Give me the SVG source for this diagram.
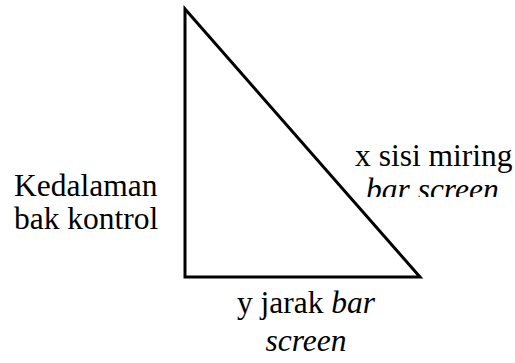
<svg xmlns="http://www.w3.org/2000/svg" width="515" height="363" viewBox="0 0 515 363">
<style>
.i{font-style:italic}
</style>
<defs><clipPath id="c"><rect x="340" y="172" width="175" height="25"/></clipPath></defs>
<rect width="515" height="363" fill="#fff"/>
<g id="triangle"><polygon points="185,9 185,277 420,277" fill="none" stroke="#000" stroke-width="3"/></g>
<g font-family="Liberation Serif, Times New Roman, Times, serif" font-size="31.5" fill="#000">
<g id="label-left"><text x="14" y="196">Kedalaman</text><text x="14" y="229">bak kontrol</text></g>
<g id="label-hyp"><text x="355" y="166">x sisi miring</text><text class="i" x="366" y="200" clip-path="url(#c)">bar screen</text></g>
<g id="label-bottom"><text x="306" y="313" text-anchor="middle">y jarak <tspan class="i">bar</tspan></text><text class="i" x="306" y="351" text-anchor="middle">screen</text></g>
</g>
</svg>
